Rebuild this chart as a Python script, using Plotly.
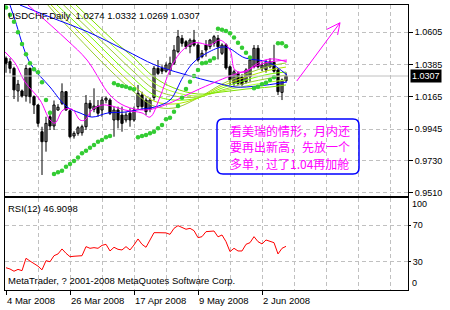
import plotly.graph_objects as go

# ---------------- data ----------------
opens = [1.0428,1.0405,1.0359,1.0205,1.0205,1.0171,1.0359,1.0166,1.0109,0.9927,
         0.9859,1.0029,0.9966,1.0075,1.0121,1.0200,1.0070,0.9898,0.9916,0.9920,
         0.9961,1.0121,1.0080,1.0102,1.0075,1.0143,1.0143,1.0007,1.0075,1.0041,
         1.0007,1.0053,1.0007,1.0098,1.0177,1.0143,1.0080,1.0160,1.0359,1.0359,
         1.0340,1.0348,1.0394,1.0473,1.0564,1.0541,1.0507,1.0552,1.0518,1.0439,
         1.0518,1.0507,1.0530,1.0564,1.0462,1.0520,1.0370,1.0257,1.0325,1.0300,
         1.0268,1.0302,1.0370,1.0496,1.0359,1.0350,1.0370,1.0400,1.0348,1.0195,
         1.0274]
highs = [1.0440,1.0428,1.0370,1.0280,1.0215,1.0382,1.0365,1.0175,1.0115,0.9961,
         1.0029,1.0070,1.0140,1.0115,1.0257,1.0205,1.0080,0.9930,0.9965,0.9975,
         1.0177,1.0143,1.0223,1.0143,1.0166,1.0166,1.0155,1.0098,1.0098,1.0098,
         1.0060,1.0087,1.0098,1.0246,1.0200,1.0160,1.0160,1.0375,1.0416,1.0380,
         1.0400,1.0439,1.0518,1.0621,1.0587,1.0552,1.0564,1.0621,1.0530,1.0484,
         1.0552,1.0560,1.0587,1.0587,1.0530,1.0530,1.0380,1.0350,1.0336,1.0320,
         1.0360,1.0428,1.0518,1.0518,1.0400,1.0416,1.0428,1.0520,1.0359,1.0290,
         1.0332]
lows = [1.0329,1.0325,1.0150,1.0132,1.0160,1.0132,1.0120,1.0048,0.9961,0.9632,
        0.9791,0.9939,0.9939,1.0070,1.0109,1.0070,0.9882,0.9880,0.9900,0.9900,
        0.9939,1.0029,1.0060,1.0029,1.0029,1.0121,1.0041,0.9893,0.9950,0.9927,
        0.9990,0.9961,0.9995,1.0075,1.0075,1.0040,1.0060,1.0140,1.0314,1.0320,
        1.0330,1.0314,1.0382,1.0462,1.0507,1.0490,1.0462,1.0507,1.0405,1.0428,
        1.0439,1.0490,1.0507,1.0420,1.0450,1.0350,1.0246,1.0240,1.0246,1.0240,
        1.0255,1.0268,1.0359,1.0359,1.0340,1.0330,1.0360,1.0330,1.0177,1.0143,
        1.0269]
closes = [1.0394,1.0359,1.0212,1.0251,1.0171,1.0359,1.0166,1.0109,0.9984,0.9859,
          0.9984,0.9966,1.0109,1.0094,1.0200,1.0075,0.9893,0.9916,0.9954,0.9961,
          1.0121,1.0087,1.0102,1.0053,1.0143,1.0155,1.0053,1.0075,1.0007,0.9984,
          1.0041,1.0007,1.0075,1.0189,1.0098,1.0064,1.0143,1.0360,1.0325,1.0340,
          1.0382,1.0394,1.0484,1.0575,1.0530,1.0507,1.0552,1.0518,1.0416,1.0462,
          1.0484,1.0552,1.0575,1.0507,1.0518,1.0362,1.0280,1.0336,1.0257,1.0250,
          1.0348,1.0416,1.0496,1.0370,1.0382,1.0400,1.0405,1.0340,1.0200,1.0280,
          1.0307]
sar = [1.0775,1.0725,1.0677,1.0605,1.0525,1.0455,1.0394,1.0353,1.0332,1.0264,
       1.0143,1.0057,0.9639,0.9650,0.9661,0.9688,0.9707,0.9727,0.9752,0.9780,
       0.9798,0.9818,0.9836,0.9859,0.9870,0.9889,0.9898,1.0257,1.0246,1.0239,
       1.0234,1.0223,1.0216,0.9889,0.9898,0.9905,0.9916,0.9927,0.9950,0.9973,
       1.0012,1.0023,1.0064,1.0102,1.0159,1.0218,1.0268,1.0307,1.0348,1.0394,
       1.0398,1.0411,1.0428,1.0630,1.0622,1.0614,1.0598,1.0570,1.0534,1.0500,
       1.0466,1.0434,1.0223,1.0234,1.0250,1.0261,1.0280,1.0298,1.0530,1.0530,
       1.0510]
rsi = [23.8,22.4,20.0,22.0,20.6,34.0,31.0,28.0,25.5,21.5,
       31.4,30.3,36.8,38.7,44.1,39.4,35.7,36.2,36.5,36.8,
       46.6,44.8,45.5,44.8,48.0,49.1,41.9,45.9,43.7,43.0,
       46.6,43.0,48.4,54.9,49.1,45.9,53.8,61.7,61.7,61.7,
       61.5,59.9,66.4,69.3,67.1,65.4,66.4,63.9,56.3,57.4,
       62.8,63.5,63.5,57.2,59.2,52.0,41.2,44.8,41.9,41.9,
       49.1,50.9,57.4,52.0,49.5,53.8,52.7,50.9,38.7,44.8,
       46.91]

blue_slow_x = [3.5,11,20.5,29.75,37.25,44.25,52.75,57.25,63,70.25]
blue_slow_y = [1.0791,1.0709,1.0607,1.0484,1.0382,1.0321,1.0259,1.0232,1.0239,1.0266]
blue_mid_x = [1,2.25,6,11,15.25,18.5,21.5,25.5,29.75,34,37.25,41,44.25,46.75,50.25,54.75,59.75,65.5,70.25]
blue_mid_y = [1.0791,1.0689,1.0396,1.0232,1.0096,1.0055,1.0027,1.0055,1.0061,1.0082,1.0096,1.0143,
              1.0300,1.0396,1.0464,1.0505,1.0430,1.0402,1.0314]
mag_fast_x = [-0.25,2.25,4.75,8.5,11,12.25,14.25,16.5,18.5,19.75,21.5,24,26.5,29.75,34,36,38.5,41,
              43.5,46.75,48.5,51,53.5,56,57.25,59.75,62.25,64.75,67.25,70.25]
mag_fast_y = [1.0471,1.0396,1.0266,1.0143,1.0007,0.9986,1.0075,1.0081,1.0007,1.0007,1.0075,1.0109,
              1.0102,1.0075,1.0055,1.0027,1.0164,1.0348,1.0464,1.0532,1.0532,1.0518,1.0552,1.0484,
              1.0348,1.0334,1.0382,1.0416,1.0423,1.0402]
mag_slow_x = [5.5,15.25,20.25,26,29.75,34.75,39.75,47.75,56,59.75,64.75,70.25]
mag_slow_y = [1.0791,1.0552,1.0416,1.0177,1.0102,1.0075,1.0109,1.0211,1.0307,1.0341,1.0396,1.0416]
fan_x = [9,12,17,22,27,32,37,42,48,54,60,66,70]
fan_1 = [1.0839,1.0743,1.0600,1.0457,1.0321,1.0198,1.0102,1.0089,1.0157,1.0252,1.0321,1.0375,1.0396]
fan_2 = [1.0859,1.0771,1.0641,1.0505,1.0368,1.0239,1.0136,1.0116,1.0157,1.0239,1.0300,1.0348,1.0368]
fan_3 = [1.0907,1.0812,1.0682,1.0552,1.0416,1.0287,1.0177,1.0143,1.0157,1.0225,1.0280,1.0321,1.0334]
fan_4 = [1.0962,1.0859,1.0723,1.0593,1.0464,1.0334,1.0218,1.0171,1.0164,1.0211,1.0259,1.0293,1.0314]
fan_5 = [1.1016,1.0907,1.0764,1.0634,1.0505,1.0382,1.0259,1.0198,1.0171,1.0205,1.0239,1.0266,1.0280]
fan_6 = [1.1071,1.0962,1.0805,1.0675,1.0546,1.0430,1.0300,1.0225,1.0184,1.0198,1.0218,1.0232,1.0246]

price_ticks = [1.0605, 1.0385, 1.0165, 0.9945, 0.9730, 0.9510]
price_tick_text = ["1.0605", "1.0385", "1.0165", "0.9945", "0.9730", "0.9510"]
date_label_idx = [0, 16, 32, 48, 64]
date_labels = ["4 Mar 2008", "26 Mar 2008", "17 Apr 2008", "9 May 2008", "2 Jun 2008"]
grid_idx = list(range(0, 100, 8))
last_price = 1.0307
note_lines = ["看美瑞的情形，月内还", "要再出新高，先放一个", "多单，过了1.04再加舱"]

# ---------------- figure ----------------
FONT = "Liberation Sans"
GRID = "#c0c0c0"
GDASH = "4px,3px"
n = len(closes)
idx = list(range(n))
fig = go.Figure()

# wicks
wx, wy = [], []
for i in idx:
    wx += [i, i, None]
    wy += [lows[i], highs[i], None]
fig.add_trace(go.Scatter(x=wx, y=wy, mode="lines", line=dict(color="black", width=1),
                         hoverinfo="skip", xaxis="x", yaxis="y"))
# bodies
base = [min(o, c) for o, c in zip(opens, closes)]
hgt = [max(abs(c - o), 0.0004) for o, c in zip(opens, closes)]
cols = ["white" if c >= o else "black" for o, c in zip(opens, closes)]
fig.add_trace(go.Bar(x=idx, y=hgt, base=base, width=0.55,
                     marker=dict(color=cols, line=dict(color="black", width=1)),
                     hoverinfo="skip", xaxis="x", yaxis="y"))

fan_cols = ["#9acd32", "#b2e600", "#7cfc00", "#9acd32", "#adff2f", "#80e000"]
for fy, fc in zip([fan_1, fan_2, fan_3, fan_4, fan_5, fan_6], fan_cols):
    fig.add_trace(go.Scatter(x=fan_x, y=fy, mode="lines", line=dict(color=fc, width=1, shape="spline"),
                             hoverinfo="skip", xaxis="x", yaxis="y"))
fig.add_trace(go.Scatter(x=blue_slow_x, y=blue_slow_y, mode="lines",
                         line=dict(color="#0000ff", width=1, shape="spline"), hoverinfo="skip"))
fig.add_trace(go.Scatter(x=blue_mid_x, y=blue_mid_y, mode="lines",
                         line=dict(color="#0000ff", width=1, shape="spline"), hoverinfo="skip"))
fig.add_trace(go.Scatter(x=mag_slow_x, y=mag_slow_y, mode="lines",
                         line=dict(color="#ff00ff", width=1, shape="spline"), hoverinfo="skip"))
fig.add_trace(go.Scatter(x=mag_fast_x, y=mag_fast_y, mode="lines",
                         line=dict(color="#ff00ff", width=1, shape="spline"), hoverinfo="skip"))
fig.add_trace(go.Scatter(x=idx, y=sar, mode="markers",
                         marker=dict(color="#33cc33", size=4.5, symbol="circle"), hoverinfo="skip"))

# RSI
fig.add_trace(go.Scatter(x=idx, y=rsi, mode="lines", line=dict(color="#ff0000", width=1),
                         hoverinfo="skip", xaxis="x2", yaxis="y2"))

XR = [-0.25, 100.5]
fig.update_layout(
    width=450, height=310, margin=dict(l=5, r=42, t=5, b=20),
    paper_bgcolor="white", plot_bgcolor="white", showlegend=False, barmode="overlay",
    font=dict(family=FONT, size=9.5, color="black"),
    xaxis=dict(domain=[0, 1], anchor="y", range=XR, showline=True, mirror=True, linecolor="black",
               linewidth=1, showgrid=True, gridcolor=GRID, griddash=GDASH, gridwidth=1,
               tickvals=grid_idx, showticklabels=False, ticks="", zeroline=False),
    xaxis2=dict(domain=[0, 1], anchor="y2", range=XR, showline=True, mirror=True, linecolor="black",
                linewidth=1, showgrid=True, gridcolor=GRID, griddash=GDASH, gridwidth=1,
                tickvals=date_label_idx, showticklabels=False, ticks="outside", ticklen=4,
                tickcolor="black", zeroline=False,
                minor=dict(tickvals=grid_idx, showgrid=True, gridcolor=GRID, griddash=GDASH, ticks="")),
    yaxis=dict(domain=[0.3298, 1], anchor="x", side="right", range=[0.94886, 1.07912],
               tickvals=price_ticks, ticktext=price_tick_text, ticks="outside", ticklen=4,
               tickcolor="black", showgrid=True, gridcolor=GRID, griddash=GDASH, showline=True,
               mirror=True, linecolor="black", zeroline=False, tickfont=dict(size=9)),
    yaxis2=dict(domain=[0, 0.3228], anchor="x2", side="right", range=[-0.3, 99.2],
                tickvals=[30, 70], ticktext=["30", "70"], ticks="outside", ticklen=2,
                tickcolor="black", showgrid=True, gridcolor=GRID, griddash=GDASH, showline=True,
                mirror=True, linecolor="black", zeroline=False, tickfont=dict(size=9)),
)

# current price line
fig.add_shape(type="line", xref="x domain", yref="y", x0=0, x1=1, y0=last_price, y1=last_price,
              line=dict(color="#c0c0c0", width=1))

ann = []
ann.append(dict(xref="paper", yref="y", x=1, y=last_price, xanchor="left", yanchor="middle", xshift=2,
                text="1.0307", showarrow=False, bgcolor="black", font=dict(color="white", size=9),
                borderpad=1))
ann.append(dict(xref="paper", yref="paper", x=0, y=1, xanchor="left", yanchor="top", xshift=1, yshift=-3,
                text="USDCHF,Daily\u00a0\u00a01.0274 1.0332 1.0269 1.0307", showarrow=False,
                font=dict(size=9.5)))
ann.append(dict(xref="paper", yref="y2", x=0, y=99, xanchor="left", yanchor="top", xshift=1, yshift=-3,
                text="RSI(12) 46.9098", showarrow=False, font=dict(size=9.5)))
ann.append(dict(xref="paper", yref="y2", x=0, y=0, xanchor="left", yanchor="bottom", xshift=1, yshift=2,
                text="MetaTrader, ? 2001-2008 MetaQuotes Software Corp.", showarrow=False,
                font=dict(size=9.5)))
ann.append(dict(xref="paper", yref="y2", x=1, y=93, xanchor="left", yanchor="middle", xshift=2,
                text="100", showarrow=False, font=dict(size=9)))
ann.append(dict(xref="paper", yref="y2", x=1, y=7, xanchor="left", yanchor="middle", xshift=2,
                text="0", showarrow=False, font=dict(size=9)))
for xi, t in zip(date_label_idx, date_labels):
    ann.append(dict(xref="x2", yref="paper", x=xi, y=0, xanchor="left", yanchor="top", xshift=-1,
                    yshift=-3, text=t, showarrow=False, font=dict(size=9.5)))

# note box
bx0, bx1, by0, by1 = 52.75, 88.25, 0.9639, 1.0014
rx, ry = 1.5, 0.0041
path = (f"M {bx0+rx},{by1} L {bx1-rx},{by1} Q {bx1},{by1} {bx1},{by1-ry} "
        f"L {bx1},{by0+ry} Q {bx1},{by0} {bx1-rx},{by0} L {bx0+rx},{by0} "
        f"Q {bx0},{by0} {bx0},{by0+ry} L {bx0},{by1-ry} Q {bx0},{by1} {bx0+rx},{by1} Z")
fig.add_shape(type="path", xref="x", yref="y", path=path, line=dict(color="#0000ff", width=1.5),
              fillcolor="rgba(0,0,0,0)")
for yv, t in zip([0.9932, 0.9823, 0.9707], note_lines):
    ann.append(dict(xref="x", yref="y", x=55.75, y=yv, xanchor="left", yanchor="middle", xshift=-1,
                    text=t, showarrow=False,
                    font=dict(family="Noto Sans CJK SC", size=12, color="#ff00ff")))

# magenta arrow
for (x0, y0, x1, y1) in [(72.7, 1.0273, 83.5, 1.0670), (83.5, 1.0670, 80.2, 1.0625), (83.5, 1.0670, 82.9, 1.0587)]:
    fig.add_shape(type="line", xref="x", yref="y", x0=x0, y0=y0, x1=x1, y1=y1,
                  line=dict(color="#ff00ff", width=1))

fig.update_layout(annotations=ann)
fig.write_html("out.html")
